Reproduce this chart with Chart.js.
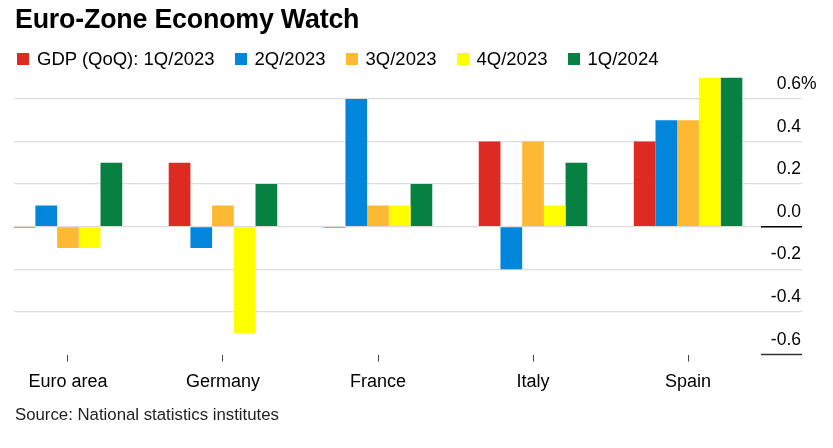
<!DOCTYPE html>
<html><head><meta charset="utf-8">
<script src="https://cdn.jsdelivr.net/npm/chart.js@4"></script>
<style>
html,body{margin:0;padding:0;background:#fff;}
#wrap{position:relative;width:833px;height:448px;overflow:hidden;font-family:"Liberation Sans",Arial,sans-serif;}
canvas{position:absolute;left:0;top:0}
#title{position:absolute;left:15px;top:4px;font-weight:bold;font-size:26.8px;color:#000;letter-spacing:-0.2px;white-space:nowrap}
#legend{position:absolute;left:17px;top:48px;display:flex;font-size:18.5px;color:#000;white-space:nowrap}
.item{display:flex;align-items:center;margin-right:20px}
.box{width:12px;height:12px;margin-right:8px}
#source{position:absolute;left:15px;top:405px;font-size:16.8px;color:#222;white-space:nowrap}
</style></head>
<body><div id="wrap"><canvas id="c" width="833" height="448"></canvas><div id="title">Euro-Zone Economy Watch</div><div id="legend"></div><div id="source">Source: National statistics institutes</div></div>
<script>
const categories = ["Euro area", "Germany", "France", "Italy", "Spain"];
const seriesNames = ["GDP (QoQ): 1Q/2023", "2Q/2023", "3Q/2023", "4Q/2023", "1Q/2024"];
const q1_2023 = [-0.005, 0.3, -0.005, 0.4, 0.4];
const q2_2023 = [0.1, -0.1, 0.6, -0.2, 0.5];
const q3_2023 = [-0.1, 0.1, 0.1, 0.4, 0.5];
const q4_2023 = [-0.1, -0.5, 0.1, 0.1, 0.7];
const q1_2024 = [0.3, 0.2, 0.2, 0.3, 0.7];
const yTicks = [-0.6, -0.4, -0.2, 0, 0.2, 0.4, 0.6];
const yTickLabels = ["-0.6", "-0.4", "-0.2", "0.0", "0.2", "0.4", "0.6%"];
const colors = ["#DD2A22", "#0286DB", "#FDB933", "#FFFF00", "#078142"];

const FONT = '"Liberation Sans", Arial, sans-serif';
const series = [q1_2023, q2_2023, q3_2023, q4_2023, q1_2024];

const lg = document.getElementById('legend');
seriesNames.forEach((n, i) => {
  const it = document.createElement('div'); it.className = 'item';
  const b = document.createElement('div'); b.className = 'box'; b.style.background = colors[i];
  const t = document.createElement('span'); t.textContent = n;
  it.appendChild(b); it.appendChild(t); lg.appendChild(it);
});

const yLabelPlugin = {
  id: 'yLabelPlugin',
  afterDraw(chart) {
    const ys = chart.scales.y, ca = chart.chartArea, ctx = chart.ctx;
    ctx.save();
    ctx.font = '17.5px ' + FONT;
    ctx.fillStyle = '#000';
    ctx.textBaseline = 'alphabetic';
    const xr = ca.right - 1;
    yTicks.forEach((v, i) => {
      const py = ys.getPixelForValue(v);
      let lab = yTickLabels[i], pct = '';
      if (lab.endsWith('%')) { pct = '%'; lab = lab.slice(0, -1); }
      ctx.textAlign = 'right'; ctx.fillText(lab, xr, py - 10);
      if (pct) { ctx.textAlign = 'left'; ctx.fillText(pct, xr, py - 10); }
    });
    ctx.lineWidth = 1.5;
    ctx.strokeStyle = '#000';
    const p0 = ys.getPixelForValue(0);
    ctx.beginPath(); ctx.moveTo(ca.right - 41, p0); ctx.lineTo(ca.right, p0); ctx.stroke();
    ctx.strokeStyle = '#333';
    const pb = ys.getPixelForValue(yTicks[0]);
    ctx.beginPath(); ctx.moveTo(ca.right - 41, pb); ctx.lineTo(ca.right, pb); ctx.stroke();
    ctx.restore();
  }
};

new Chart(document.getElementById('c'), {
  type: 'bar',
  data: {
    datasets: series.map((s, i) => ({
      label: seriesNames[i],
      data: s.map((v, k) => ({ x: k, y: v })),
      backgroundColor: colors[i],
      borderWidth: 0,
      categoryPercentage: 0.7,
      barPercentage: 1.0
    }))
  },
  options: {
    responsive: false,
    animation: false,
    events: [],
    layout: { padding: { left: 14, top: 77.6, right: 0, bottom: 0 } },
    plugins: { legend: { display: false }, title: { display: false }, tooltip: { enabled: false } },
    scales: {
      x: {
        type: 'linear', min: -0.348, max: 4.735, offset: false,
        afterBuildTicks: s => { s.ticks = categories.map((c, i) => ({ value: i })); },
        afterFit: s => { s.height = 93.5; },
        grid: { display: true, offset: false, drawOnChartArea: false, drawTicks: true, tickLength: 7, color: '#444', lineWidth: 1 },
        border: { display: false },
        ticks: { callback: v => categories[v], font: { family: FONT, size: 18 }, color: '#000', padding: 10, maxRotation: 0, autoSkip: false }
      },
      y: {
        position: 'right', min: -0.6, max: 0.7,
        afterBuildTicks: s => { s.ticks = yTicks.map(v => ({ value: v })); },
        afterFit: s => { s.width = 31; },
        ticks: { display: false },
        grid: { drawTicks: false, lineWidth: 1.2, color: ctx => (ctx.tick && ctx.tick.value === yTicks[0]) ? 'rgba(0,0,0,0)' : '#dcdcdc' },
        border: { display: false }
      }
    }
  },
  plugins: [yLabelPlugin]
});
</script>
</body></html>
